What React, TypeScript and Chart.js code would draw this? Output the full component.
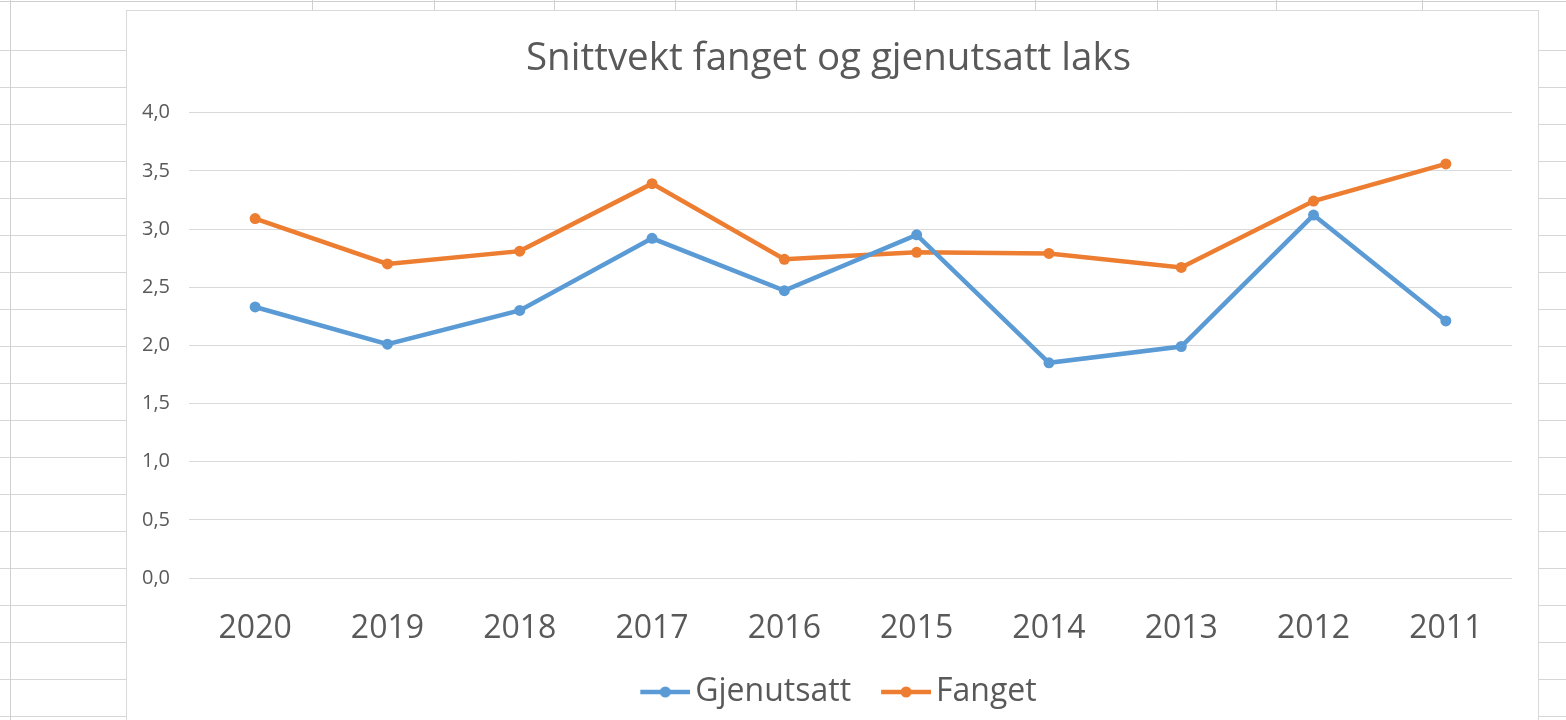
import React, { useEffect, useRef } from "react";
import { Chart, registerables } from "chart.js";

Chart.register(...registerables);

// ---- data ----
const chartTitle = "Snittvekt fanget og gjenutsatt laks";
const years = ["2020", "2019", "2018", "2017", "2016", "2015", "2014", "2013", "2012", "2011"];
const seriesNames = ["Gjenutsatt", "Fanget"];
const gjenutsatt = [2.33, 2.01, 2.30, 2.92, 2.47, 2.95, 1.85, 1.99, 3.12, 2.21];
const fanget = [3.09, 2.70, 2.81, 3.39, 2.74, 2.80, 2.79, 2.67, 3.24, 3.56];
const yMin = 0;
const yMax = 4;
const yStep = 0.5;

// spreadsheet column lines peeking above the chart (decoration)
const sheetColumns = [312, 434, 554, 675, 796, 914, 1035, 1157, 1276, 1422];

const BLUE = "#5B9BD5";
const ORANGE = "#ED7D31";
const TEXT = "#595959";
const GRID = "#d9d9d9";
const FONT = "'Open Sans', 'Noto Sans', sans-serif";

// legend symbol: line with a dot, drawn on the right part of a wider transparent image
function legendIcon(color: string): HTMLCanvasElement {
  const c = document.createElement("canvas");
  const W = 81;
  const L = 50;
  c.width = W;
  c.height = 14;
  const ctx = c.getContext("2d")!;
  ctx.strokeStyle = color;
  ctx.lineWidth = 4.5;
  ctx.beginPath();
  ctx.moveTo(W - L, 7);
  ctx.lineTo(W, 7);
  ctx.stroke();
  ctx.fillStyle = color;
  ctx.beginPath();
  ctx.arc(W - L / 2, 7, 5.5, 0, Math.PI * 2);
  ctx.fill();
  return c;
}

export default function App() {
  const ref = useRef<HTMLCanvasElement | null>(null);

  useEffect(() => {
    if (!ref.current) return;
    const icons = [legendIcon(BLUE), legendIcon(ORANGE)];
    const chart = new Chart(ref.current, {
      type: "line",
      data: {
        labels: years,
        datasets: [
          {
            label: seriesNames[0],
            data: gjenutsatt,
            borderColor: BLUE,
            backgroundColor: BLUE,
            borderWidth: 4.5,
            pointRadius: 5.5,
            pointBorderWidth: 0,
            pointBackgroundColor: BLUE,
            tension: 0,
          },
          {
            label: seriesNames[1],
            data: fanget,
            borderColor: ORANGE,
            backgroundColor: ORANGE,
            borderWidth: 4.5,
            pointRadius: 5.5,
            pointBorderWidth: 0,
            pointBackgroundColor: ORANGE,
            tension: 0,
          },
        ],
      },
      options: {
        responsive: false,
        animation: false,
        layout: { padding: { left: 9, right: 17, top: 0, bottom: 2 } },
        plugins: {
          title: {
            display: true,
            text: chartTitle,
            color: TEXT,
            font: { family: FONT, size: 38.5, weight: "normal" },
            padding: { top: 25, bottom: 30.5 },
          },
          legend: {
            position: "bottom",
            labels: {
              color: TEXT,
              font: { family: FONT, size: 32 },
              usePointStyle: true,
              pointStyleWidth: 59,
              boxHeight: 14,
              padding: 10,
              generateLabels: (ch: any) => {
                const items = (Chart.defaults.plugins.legend.labels as any).generateLabels(ch);
                items.forEach((it: any, i: number) => {
                  it.pointStyle = icons[i];
                });
                return items;
              },
            },
          },
          tooltip: { enabled: false },
        },
        scales: {
          x: {
            offset: true,
            grid: { display: false },
            border: { display: false },
            ticks: {
              color: TEXT,
              font: { family: FONT, size: 32 },
              padding: 24,
              maxRotation: 0,
            },
            afterFit: (scale: any) => {
              scale.height = 88;
            },
          },
          y: {
            min: yMin,
            max: yMax,
            grid: { color: GRID, lineWidth: 1, drawTicks: false },
            border: { display: false },
            ticks: {
              stepSize: yStep,
              color: TEXT,
              font: { family: FONT, size: 20 },
              padding: 19,
              callback: (v: any) => Number(v).toFixed(1).replace(".", ","),
            },
            afterFit: (scale: any) => {
              scale.width = 53;
            },
          },
          // empty spacer on the right so the plot area ends where Excel's does
          yRight: {
            position: "right",
            display: true,
            grid: { display: false, drawTicks: false },
            border: { display: false },
            ticks: { display: false },
            afterFit: (scale: any) => {
              scale.width = 9;
            },
          },
        },
      },
    });
    return () => chart.destroy();
  }, []);

  return (
    <div
      style={{
        position: "absolute",
        left: 0,
        top: 0,
        width: 1566,
        height: 720,
        overflow: "hidden",
        background: "#ffffff",
      }}
    >
      {/* spreadsheet background */}
      <div
        style={{
          position: "absolute",
          left: 0,
          top: 14,
          width: 1566,
          height: 720,
          backgroundImage:
            "repeating-linear-gradient(to bottom, transparent 0px, transparent 36px, #d6d6d6 36px, #d6d6d6 37px)",
        }}
      />
      <div style={{ position: "absolute", left: 0, top: 1, width: 1566, height: 1, background: "#cfcfcf" }} />
      <div style={{ position: "absolute", left: 10, top: 0, width: 1, height: 720, background: "#d0d0d0" }} />
      {sheetColumns.map((x) => (
        <div key={x} style={{ position: "absolute", left: x, top: 0, width: 1, height: 11, background: "#d0d0d0" }} />
      ))}
      {/* chart box */}
      <div
        style={{
          position: "absolute",
          left: 126,
          top: 10,
          width: 1413,
          height: 720,
          boxSizing: "border-box",
          border: "1px solid #d9d9d9",
          background: "#ffffff",
        }}
      >
        <canvas ref={ref} width={1411} height={709} style={{ display: "block", width: 1411, height: 709 }} />
      </div>
    </div>
  );
}
